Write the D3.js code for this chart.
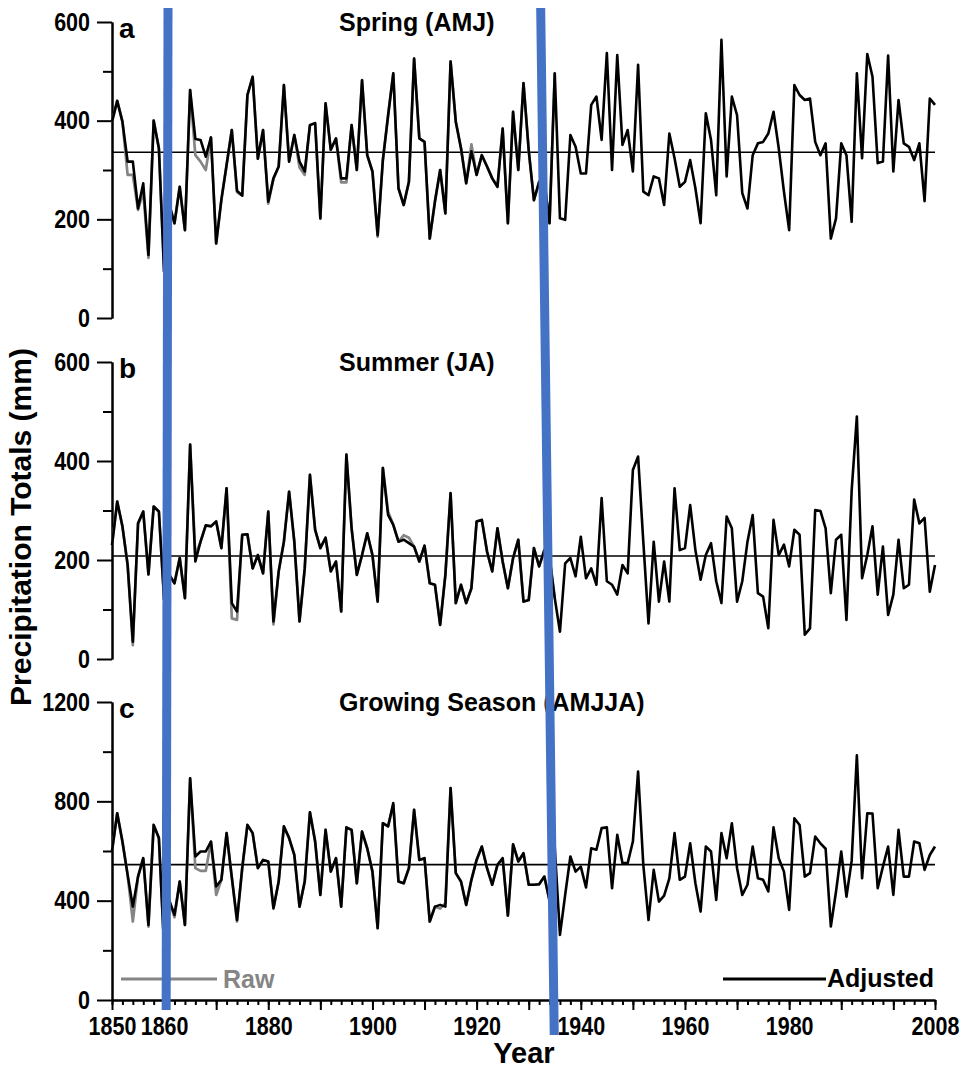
<!DOCTYPE html>
<html>
<head>
<meta charset="utf-8">
<script src="https://cdn.jsdelivr.net/npm/d3@7"></script>
<style>
  body { margin: 0; background: #fff; }
  svg text { font-family: "Liberation Sans", Arial, sans-serif; font-weight: bold; }
</style>
</head>
<body>
<svg id="chart"></svg>
<script>
// yearly totals (mm), 1850 - 2008
const years = d3.range(1850, 2009)

const springAdj = [
  398, 440, 398, 317, 317, 222, 273, 128, 400, 344,
  94, 230, 192, 266, 178, 462, 363, 361, 327, 366,
  151, 240, 310, 381, 258, 248, 452, 489, 323, 381,
  236, 283, 307, 472, 317, 371, 317, 297, 391, 395,
  202, 435, 341, 364, 283, 283, 391, 300, 482, 330,
  297, 168, 320, 410, 496, 263, 229, 276, 526, 364,
  357, 161, 236, 300, 212, 520, 398, 344, 273, 338,
  290, 330, 307, 283, 266, 384, 192, 418, 300, 476,
  340, 239, 276, 277, 192, 496, 202, 199, 371, 347,
  293, 293, 432, 449, 361, 537, 300, 533, 351, 381,
  297, 513, 256, 249, 287, 283, 229, 374, 324, 266,
  276, 320, 263, 192, 415, 361, 249, 564, 287, 449,
  411, 253, 222, 330, 354, 357, 374, 418, 344, 256,
  178, 472, 452, 442, 445, 357, 330, 354, 161, 202,
  354, 330, 195, 496, 324, 535, 489, 314, 317, 532,
  297, 442, 354, 347, 320, 354, 237, 445, 432
]
const summerAdj = [
  230, 318, 268, 190, 35, 274, 298, 171, 308, 298,
  120, 170, 153, 204, 123, 433, 197, 237, 270, 268,
  278, 224, 345, 113, 96, 251, 252, 183, 210, 173,
  298, 76, 177, 237, 338, 237, 76, 183, 372, 261,
  224, 245, 177, 197, 96, 413, 264, 170, 210, 254,
  210, 116, 386, 291, 271, 237, 241, 234, 227, 197,
  229, 153, 150, 69, 170, 335, 113, 150, 113, 143,
  278, 281, 217, 177, 264, 197, 143, 204, 241, 116,
  119, 224, 187, 220, 205, 123, 55, 193, 204, 167,
  247, 163, 183, 150, 325, 157, 150, 130, 190, 173,
  382, 409, 237, 72, 237, 116, 197, 116, 345, 220,
  224, 311, 220, 160, 210, 234, 157, 113, 288, 264,
  116, 157, 237, 291, 133, 126, 62, 281, 210, 231,
  187, 261, 251, 49, 62, 301, 299, 264, 133, 241,
  251, 79, 340, 490, 163, 210, 268, 130, 227, 89,
  130, 241, 143, 150, 322, 274, 285, 136, 190
]
const growingAdj = [
  600, 752, 638, 504, 376, 497, 571, 302, 705, 652,
  215, 400, 343, 477, 302, 893, 578, 598, 598, 638,
  457, 484, 672, 494, 322, 531, 705, 672, 531, 564,
  558, 369, 477, 699, 652, 584, 376, 477, 756, 638,
  423, 685, 517, 571, 376, 695, 685, 470, 678, 611,
  517, 289, 712, 699, 793, 477, 470, 531, 766, 564,
  571, 316, 376, 383, 376, 853, 511, 477, 383, 484,
  564, 618, 531, 464, 544, 571, 340, 627, 558, 591,
  464, 464, 466, 497, 400, 615, 262, 423, 578, 517,
  537, 453, 611, 605, 692, 695, 450, 665, 551, 551,
  638, 920, 544, 322, 524, 396, 420, 490, 672, 484,
  497, 631, 470, 356, 618, 598, 403, 672, 571, 712,
  531, 423, 464, 618, 490, 484, 437, 695, 571, 517,
  363, 732, 705, 497, 511, 658, 631, 609, 296, 437,
  598, 416, 560, 985, 490, 752, 751, 450, 537, 618,
  423, 685, 497, 497, 638, 631, 524, 584, 618
]

// raw (unadjusted) series, 1850 - 1935; after that it is the same as adjusted
const springRaw = [
  398, 440, 398, 290, 290, 219, 256, 122, 400, 344,
  94, 230, 192, 266, 178, 462, 330, 317, 300, 366,
  151, 240, 310, 381, 255, 248, 452, 489, 323, 381,
  232, 283, 307, 472, 317, 371, 305, 290, 391, 395,
  202, 435, 341, 364, 275, 275, 391, 300, 482, 330,
  297, 165, 320, 410, 496, 263, 229, 276, 526, 364,
  357, 161, 236, 300, 212, 520, 398, 344, 273, 352,
  290, 330, 307, 283, 266, 384, 192, 418, 300, 476,
  340, 239, 276, 277, 192, 496
]
const summerRaw = [
  230, 318, 268, 190, 28, 274, 298, 171, 308, 298,
  120, 170, 153, 204, 123, 433, 210, 237, 270, 268,
  278, 224, 345, 82, 79, 251, 252, 183, 210, 173,
  298, 70, 177, 237, 338, 237, 76, 183, 372, 261,
  224, 245, 177, 197, 96, 413, 264, 170, 210, 254,
  210, 116, 386, 298, 271, 237, 250, 245, 227, 197,
  229, 153, 150, 69, 170, 335, 113, 150, 113, 143,
  278, 281, 217, 177, 264, 197, 143, 204, 241, 116,
  119, 224, 187, 220, 205, 123
]
const growingRaw = [
  600, 752, 638, 504, 316, 497, 571, 295, 705, 652,
  215, 400, 333, 477, 302, 893, 531, 520, 520, 638,
  423, 484, 672, 494, 316, 531, 705, 672, 531, 564,
  558, 369, 477, 699, 652, 584, 376, 477, 756, 638,
  423, 685, 517, 571, 376, 695, 685, 470, 678, 611,
  517, 289, 712, 699, 785, 477, 470, 531, 766, 564,
  571, 316, 376, 368, 390, 853, 511, 477, 383, 484,
  564, 618, 531, 464, 544, 571, 340, 627, 558, 591,
  464, 464, 466, 497, 400, 615
]

// long-term means (horizontal lines)
const means = [336, 208, 545]

const titles = ['Spring (AMJ)', 'Summer (JA)', 'Growing Season (AMJJA)']
const letters = ['a', 'b', 'c']
const yMax = [600, 600, 1200]
const yMajor = [[0, 200, 400, 600], [0, 200, 400, 600], [0, 400, 800, 1200]]
const yMinor = [[100, 300, 500], [100, 300, 500], [200, 600, 1000]]
const xTickLabels = [1850, 1860, 1880, 1900, 1920, 1940, 1960, 1980, 2008]

// the two blue break marks (year at the top end, year at the bottom end)
const breakTop = [1860.75, 1932.3]
const breakBottom = [1860.4, 1934.9]

// layout
const width = 963
const height = 1070
const xLeft = 112
const xRight = 935
const panelTop = [22, 362, 702]
const panelBottom = [318, 659, 1000]
const breakEndY = [1010, 1035]
const narrow = 0.86   // tick labels are set in a condensed face

const svg = d3.select('svg#chart').attr('width', width).attr('height', height)

const x = d3.scaleLinear().domain([1850, 2008]).range([xLeft, xRight])

const adj = [springAdj, summerAdj, growingAdj]
const raw = [springRaw, summerRaw, growingRaw]

const styleAxis = (g) => {
  g.selectAll('path, line').attr('stroke', '#000').attr('stroke-width', 2)
  g.attr('font-family', '"Liberation Sans", Arial, sans-serif')
    .attr('font-size', 25).attr('font-weight', 'bold')
  g.selectAll('text').attr('fill', '#000')
    .attr('x', function () { return (+this.getAttribute('x') || 0) / narrow })
    .attr('transform', 'scale(' + narrow + ',1)')
}

adj.forEach((series, i) => {
  const y = d3.scaleLinear().domain([0, yMax[i]]).range([panelBottom[i], panelTop[i]])
  const g = svg.append('g')

  // y axis: minor ticks, then major ticks with labels
  g.append('g').attr('transform', 'translate(' + xLeft + ',0)')
    .call(d3.axisLeft(y).tickValues(yMinor[i]).tickSize(9).tickSizeOuter(0).tickFormat(''))
    .call(styleAxis)
  g.append('g').attr('transform', 'translate(' + xLeft + ',0)')
    .call(d3.axisLeft(y).tickValues(yMajor[i]).tickSize(15).tickPadding(7).tickSizeOuter(0).tickFormat(d3.format('d')))
    .call(styleAxis)

  // mean line
  g.append('line')
    .attr('x1', x(1850)).attr('x2', x(2008))
    .attr('y1', y(means[i])).attr('y2', y(means[i]))
    .attr('stroke', '#000').attr('stroke-width', 1.6)

  const line = d3.line().x((d, k) => x(years[k])).y(d => y(d))

  g.append('path').datum(raw[i]).attr('d', line)
    .attr('fill', 'none').attr('stroke', '#858585').attr('stroke-width', 2.7)
    .attr('stroke-linejoin', 'round')
  g.append('path').datum(series).attr('d', line)
    .attr('fill', 'none').attr('stroke', '#000').attr('stroke-width', 2.6)
    .attr('stroke-linejoin', 'round')

  // panel letter and title
  g.append('text').attr('x', 119).attr('y', panelTop[i] + 16)
    .attr('font-size', 28).text(letters[i])
  g.append('text').attr('x', 339).attr('y', panelTop[i] + 9)
    .attr('font-size', 25).text(titles[i])
})

// x axis under the last panel
const xAxisG = svg.append('g').attr('transform', 'translate(0,' + panelBottom[2] + ')')
xAxisG.append('g')
  .call(d3.axisBottom(x).tickValues(d3.range(1850, 2009, 2)).tickSize(5).tickSizeOuter(0).tickFormat(''))
  .call(styleAxis)
xAxisG.append('g')
  .call(d3.axisBottom(x).tickValues(d3.range(1850, 2009, 10).concat([2008])).tickSize(10).tickPadding(7)
    .tickSizeOuter(0).tickFormat(d => xTickLabels.includes(d) ? d : ''))
  .call(styleAxis)

// axis titles
svg.append('text')
  .attr('transform', 'translate(31,527) rotate(-90)')
  .attr('text-anchor', 'middle').attr('font-size', 30)
  .text('Precipitation Totals (mm)')
svg.append('text')
  .attr('x', 524).attr('y', 1063)
  .attr('text-anchor', 'middle').attr('font-size', 29)
  .text('Year')

// legend
const legY = 979
svg.append('line').attr('x1', 121).attr('x2', 217).attr('y1', legY).attr('y2', legY)
  .attr('stroke', '#858585').attr('stroke-width', 3)
svg.append('text').attr('x', 223).attr('y', legY + 9).attr('font-size', 25)
  .attr('fill', '#858585').text('Raw')
svg.append('line').attr('x1', 723).attr('x2', 826).attr('y1', legY).attr('y2', legY)
  .attr('stroke', '#000').attr('stroke-width', 3)
svg.append('text').attr('x', 827).attr('y', legY + 8).attr('font-size', 25)
  .attr('fill', '#000').text('Adjusted')

// blue break marks drawn over everything
breakTop.forEach((yr, i) => {
  svg.append('line')
    .attr('x1', x(yr)).attr('y1', 8)
    .attr('x2', x(breakBottom[i])).attr('y2', breakEndY[i])
    .attr('stroke', '#4472c4').attr('stroke-width', 9)
})
</script>
</body>
</html>
